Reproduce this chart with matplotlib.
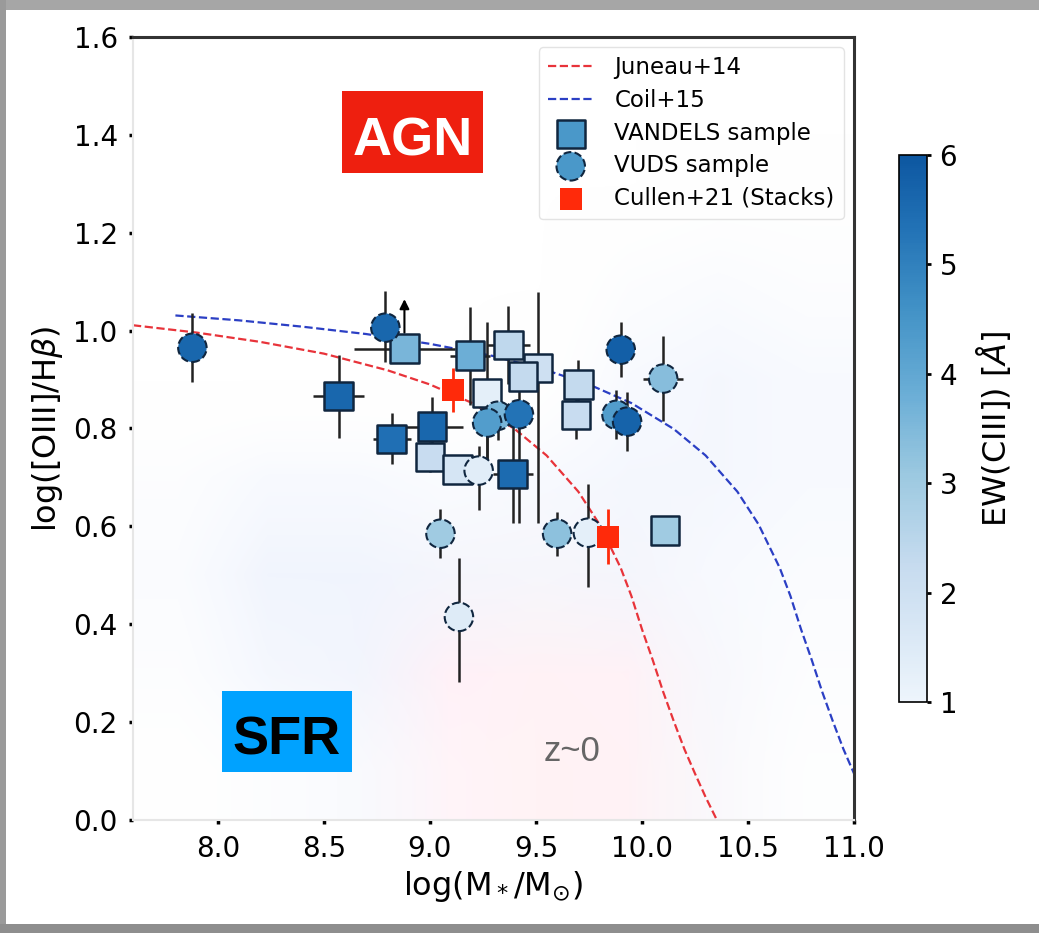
import numpy as np
import matplotlib
matplotlib.use("Agg")
import matplotlib.pyplot as plt
from matplotlib.colors import LinearSegmentedColormap, Normalize
from matplotlib.patches import Rectangle
from matplotlib.lines import Line2D

# ---- data ----
# VANDELS sample (squares)
vandels_mass = [8.57, 8.88, 9.19, 9.37, 9.51, 9.44, 9.27, 9.70, 9.69, 8.82, 9.01, 9.00, 9.13, 9.39, 10.11]
vandels_o3hb = [0.866, 0.963, 0.949, 0.971, 0.924, 0.906, 0.873, 0.890, 0.828, 0.779, 0.804, 0.742, 0.716, 0.707, 0.592]
vandels_ew = [5.6, 3.6, 3.8, 2.4, 2.0, 2.3, 1.3, 2.3, 2.2, 5.4, 5.6, 2.2, 1.8, 5.5, 3.0]
vandels_yerr_lo = [0.085, 0.03, 0.10, 0.08, 0.317, 0.03, 0.14, 0.05, 0.05, 0.052, 0.06, 0.03, 0.03, 0.10, 0.02]
vandels_yerr_hi = [0.085, 0.03, 0.10, 0.08, 0.154, 0.03, 0.145, 0.05, 0.05, 0.052, 0.06, 0.03, 0.03, 0.10, 0.02]
vandels_xerr = [0.12, 0.24, 0.094, 0.10, 0.03, 0.03, 0.05, 0.06, 0.05, 0.09, 0.146, 0.03, 0.03, 0.094, 0.02]
lowlim_mass = [8.88]
lowlim_o3hb = [0.99]
lowlim_len = [0.08]

# VUDS sample (circles)
vuds_mass = [7.88, 8.79, 9.32, 9.27, 9.42, 9.23, 9.05, 9.60, 9.745, 9.90, 10.10, 9.88, 9.93, 9.137]
vuds_o3hb = [0.965, 1.006, 0.826, 0.812, 0.829, 0.714, 0.585, 0.585, 0.587, 0.961, 0.902, 0.828, 0.814, 0.415]
vuds_ew = [5.6, 5.6, 3.6, 4.3, 5.3, 1.4, 3.0, 3.3, 1.3, 5.8, 3.4, 4.3, 5.7, 1.5]
vuds_yerr_lo = [0.071, 0.07, 0.05, 0.076, 0.222, 0.08, 0.05, 0.045, 0.11, 0.056, 0.087, 0.05, 0.06, 0.133]
vuds_yerr_hi = [0.072, 0.074, 0.05, 0.05, 0.05, 0.05, 0.05, 0.045, 0.10, 0.056, 0.087, 0.05, 0.06, 0.121]
vuds_xerr = [0.02, 0.02, 0.02, 0.02, 0.02, 0.02, 0.02, 0.02, 0.07, 0.02, 0.094, 0.02, 0.02, 0.02]

# Cullen+21 stacks
stack_mass = [9.11, 9.84]
stack_o3hb = [0.879, 0.579]
stack_yerr = [0.045, 0.056]

# demarcation curves
juneau_x = [7.6, 7.9, 8.2, 8.5, 8.8, 9.0, 9.2, 9.4, 9.55, 9.7, 9.8, 9.9, 9.95, 10.0,
            10.05, 10.1, 10.15, 10.2, 10.25, 10.3, 10.35]
juneau_y = [1.011, 0.996, 0.977, 0.953, 0.919, 0.89, 0.852, 0.799, 0.745, 0.671, 0.604,
            0.515, 0.458, 0.39, 0.328, 0.262, 0.202, 0.145, 0.095, 0.047, 0.003]
coil_x = [7.8, 8.1, 8.4, 8.7, 9.0, 9.3, 9.55, 9.75, 9.95, 10.15, 10.3, 10.45, 10.55,
          10.65, 10.7, 10.75, 10.8, 10.85, 10.9, 10.95, 11.0]
coil_y = [1.031, 1.021, 1.008, 0.993, 0.973, 0.948, 0.919, 0.89, 0.852, 0.799, 0.745,
          0.671, 0.604, 0.515, 0.458, 0.39, 0.328, 0.262, 0.202, 0.145, 0.095]

# faint z~0 density background (rows from top y=1.4 down to y=0)
bg_blue = [
    [0.0, 0.0, 0.0, 0.0, 0.0, 0.0, 0.1, 0.1],
    [0.0, 0.0, 0.0, 0.0, 0.0, 0.3, 0.4, 0.3],
    [0.0, 0.0, 0.0, 0.0, 0.1, 0.5, 0.6, 0.5],
    [0.3, 0.5, 0.5, 0.4, 0.5, 0.6, 0.6, 0.5],
    [0.4, 0.7, 0.7, 0.5, 0.4, 0.5, 0.5, 0.4],
    [0.3, 0.6, 0.6, 0.4, 0.2, 0.3, 0.4, 0.3],
    [0.1, 0.3, 0.4, 0.3, 0.1, 0.2, 0.3, 0.2],
]
bg_red = [
    [0.0, 0.0, 0.0, 0.0, 0.0, 0.0, 0.0, 0.0],
    [0.0, 0.0, 0.0, 0.0, 0.0, 0.0, 0.0, 0.0],
    [0.0, 0.0, 0.0, 0.0, 0.0, 0.0, 0.0, 0.0],
    [0.0, 0.0, 0.0, 0.0, 0.0, 0.0, 0.0, 0.0],
    [0.0, 0.0, 0.0, 0.2, 0.3, 0.2, 0.0, 0.0],
    [0.0, 0.0, 0.1, 0.5, 0.7, 0.6, 0.2, 0.0],
    [0.0, 0.0, 0.1, 0.5, 0.8, 0.7, 0.3, 0.0],
]

# ---- figure ----
fig = plt.figure(figsize=(10.39, 9.33), dpi=100)
fig.patch.set_facecolor('white')

# screenshot frame
fig.patches.append(Rectangle((0, 1 - 10 / 933), 1, 10 / 933, transform=fig.transFigure,
                             fc='#a6a6a6', ec='none', zorder=0))
fig.patches.append(Rectangle((0, 0), 6 / 1039, 1, transform=fig.transFigure,
                             fc='#9a9a9a', ec='none', zorder=0))
fig.patches.append(Rectangle((0, 0), 1, 9 / 933, transform=fig.transFigure,
                             fc='#8e8e8e', ec='none', zorder=0))

ax = fig.add_axes([133 / 1039, 1 - 820 / 933, 721 / 1039, 783 / 933])
cax = fig.add_axes([899 / 1039, 1 - 702 / 933, 28 / 1039, 547 / 933])

cmap = LinearSegmentedColormap.from_list(
    'blues_cut', plt.cm.Blues(np.linspace(0.05, 0.85, 256)))
norm = Normalize(vmin=1, vmax=6)

# background density
blue = np.array(bg_blue)
red = np.array(bg_red)
img = np.ones(blue.shape + (4,))
img[..., 0] = 1 - 0.25 * blue
img[..., 1] = 1 - 0.18 * blue - 0.12 * red
img[..., 2] = 1 - 0.02 * blue - 0.12 * red
img[..., 0] = np.where(red > blue, 1.0, img[..., 0])
img[..., 3] = np.clip(0.45 * (blue + red), 0, 1)
ax.imshow(img, extent=(7.6, 11.0, 0.0, 1.4), aspect='auto', interpolation='bilinear',
          zorder=0)

# curves
ax.plot(juneau_x, juneau_y, ls='--', color='#e8333a', lw=1.6, zorder=1)
ax.plot(coil_x, coil_y, ls='--', color='#2b3fc4', lw=1.6, zorder=1)

# error bars
ax.errorbar(vandels_mass, vandels_o3hb, yerr=[vandels_yerr_lo, vandels_yerr_hi],
            xerr=vandels_xerr, fmt='none', ecolor='#222222', elinewidth=1.8,
            capsize=0, zorder=2)
ax.errorbar(vuds_mass, vuds_o3hb, yerr=[vuds_yerr_lo, vuds_yerr_hi],
            xerr=vuds_xerr, fmt='none', ecolor='#222222', elinewidth=1.8,
            capsize=0, zorder=2)
for mx, my, ml in zip(lowlim_mass, lowlim_o3hb, lowlim_len):
    ax.annotate('', xy=(mx, my + ml), xytext=(mx, my),
                arrowprops=dict(arrowstyle='-|>', color='black', lw=1.5,
                                mutation_scale=14), zorder=2)

# markers
ax.scatter(vandels_mass, vandels_o3hb, c=vandels_ew, cmap=cmap, norm=norm,
           marker='s', s=420, edgecolors='#10263f', linewidths=1.8, zorder=3)
ax.scatter(vuds_mass, vuds_o3hb, c=vuds_ew, cmap=cmap, norm=norm,
           marker='o', s=420, edgecolors='#10263f', linewidths=1.5,
           linestyles='--', zorder=4)
ax.errorbar(stack_mass, stack_o3hb, yerr=stack_yerr, fmt='none', ecolor='#ff2a0a',
            elinewidth=2, capsize=0, zorder=5)
ax.scatter(stack_mass, stack_o3hb, c='#ff2a0a', marker='s', s=260, linewidths=0,
           zorder=5)

# region labels
ax.add_patch(Rectangle((8.585, 1.323), 0.665, 0.166, fc='#ee1f0f', ec='none', zorder=6))
ax.text(8.917, 1.358, 'AGN', fontsize=39, fontweight='bold', color='white',
        family='Liberation Sans', ha='center', va='baseline', zorder=7)
ax.add_patch(Rectangle((8.019, 0.098), 0.613, 0.166, fc='#00a2ff', ec='none', zorder=6))
ax.text(8.325, 0.133, 'SFR', fontsize=39, fontweight='bold', color='black',
        family='Liberation Sans', ha='center', va='baseline', zorder=7)
ax.text(9.67, 0.14, 'z~0', fontsize=25, color='#666666', family='Liberation Sans',
        ha='center', va='center')

ax.set_xlim(7.6, 11.0)
ax.set_ylim(0.0, 1.6)
ax.set_xticks([8.0, 8.5, 9.0, 9.5, 10.0, 10.5, 11.0])
ax.set_yticks([0.0, 0.2, 0.4, 0.6, 0.8, 1.0, 1.2, 1.4, 1.6])
ax.tick_params(labelsize=20, length=3, width=2.5, direction='out', pad=8)
ax.set_xlabel(r'log(M$_*$/M$_{\odot}$)', fontsize=23, labelpad=4)
ax.set_ylabel(r'log([OIII]/H$\beta$)', fontsize=23, labelpad=6)
for s in ['top', 'right']:
    ax.spines[s].set_color('#333333')
    ax.spines[s].set_linewidth(2.2)
for s in ['left', 'bottom']:
    ax.spines[s].set_color('#e6e6e6')
    ax.spines[s].set_linewidth(1.5)

# legend
handles = [
    Line2D([], [], ls='--', color='#e8333a', lw=1.6),
    Line2D([], [], ls='--', color='#2b3fc4', lw=1.6),
    ax.scatter([], [], marker='s', s=420, c='#4a98c9', edgecolors='#10263f', linewidths=1.8),
    ax.scatter([], [], marker='o', s=420, c='#4a98c9', edgecolors='#10263f', linewidths=1.5,
               linestyles='--'),
    ax.scatter([], [], marker='s', s=260, c='#ff2a0a', linewidths=0),
]
labels = ['Juneau+14', 'Coil+15', 'VANDELS sample', 'VUDS sample', 'Cullen+21 (Stacks)']
leg = ax.legend(handles, labels, loc='upper right', fontsize=16.5, frameon=True,
                borderaxespad=0.45, handlelength=2.0, labelspacing=0.42,
                handletextpad=0.9, scatterpoints=1)
leg.get_frame().set_edgecolor('#dddddd')

# colorbar
cb = fig.colorbar(plt.cm.ScalarMappable(norm=norm, cmap=cmap), cax=cax)
cb.set_ticks([1, 2, 3, 4, 5, 6])
cb.ax.tick_params(labelsize=20, length=3, width=2, pad=6)
cb.outline.set_linewidth(1.2)
cb.set_label(r'EW(CIII]) [$\AA$]', fontsize=23, labelpad=12)

fig.savefig('out.png', dpi=100)
